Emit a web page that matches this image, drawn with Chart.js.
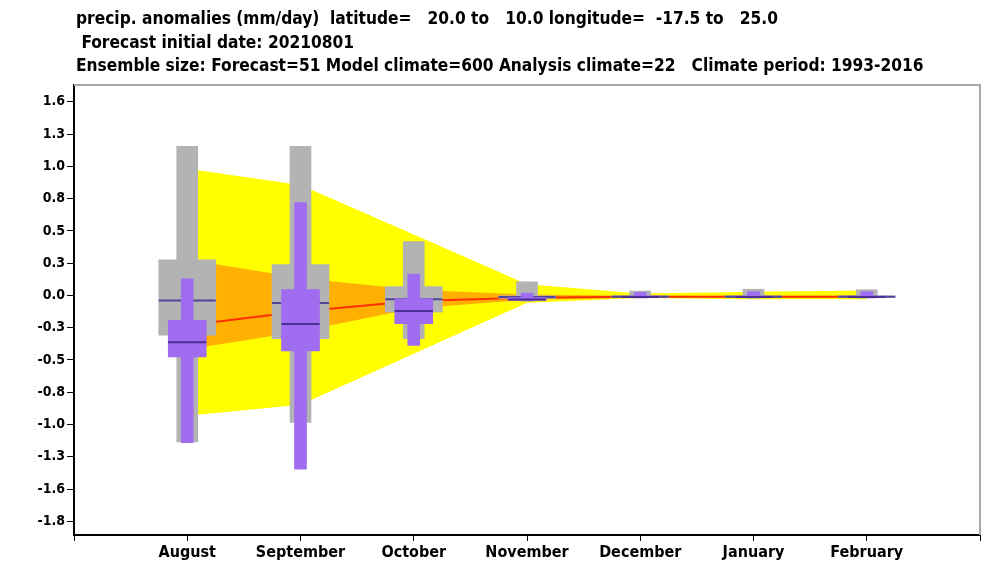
<!DOCTYPE html>
<html>
<head>
<meta charset="utf-8">
<script src="https://cdn.jsdelivr.net/npm/chart.js@4.4.1/dist/chart.umd.min.js"></script>
<style>
  html, body { margin: 0; padding: 0; background: #fff; }
  #wrap { width: 996px; height: 575px; }
</style>
</head>
<body>
<div id="wrap"><canvas id="climagram" width="996" height="575"></canvas></div>
<script>
// Title text
const titleLines = [
  "precip. anomalies (mm/day)  latitude=   20.0 to   10.0 longitude=  -17.5 to   25.0",
  " Forecast initial date: 20210801",
  "Ensemble size: Forecast=51 Model climate=600 Analysis climate=22   Climate period: 1993-2016"
];

// Months and their positions on the x axis
const months = ["August", "September", "October", "November", "December", "January", "February"];
const monthPos = [1, 2, 3, 4, 5, 6, 7];
const xTickValues = [0, 1, 2, 3, 4, 5, 6, 7, 8];

// y axis ticks
const yTickValues = [-1.82, -1.56, -1.3, -1.04, -0.78, -0.52, -0.26, 0, 0.26, 0.52, 0.78, 1.04, 1.3, 1.56];
const yTickLabels = ["-1.8", "-1.6", "-1.3", "-1.0", "-0.8", "-0.5", "-0.3", "0.0", "0.3", "0.5", "0.8", "1.0", "1.3", "1.6"];

// Model climate bands (yellow = outer, orange = inner) and median (red)
const outerHigh = [1.02, 0.89, 0.49, 0.09, 0.016, 0.03, 0.04];
const outerLow = [-0.97, -0.88, -0.47, -0.06, -0.02, -0.03, -0.03];
const innerHigh = [0.29, 0.14, 0.045, 0.008, -0.003, -0.003, -0.003];
const innerLow = [-0.435, -0.29, -0.105, -0.035, -0.018, -0.02, -0.02];
const climMedian = [-0.24, -0.13, -0.045, -0.018, -0.01, -0.01, -0.01];

// Analysis climate (grey boxes)
const anaMax = [1.2, 1.2, 0.434, 0.11, 0.035, 0.05, 0.046];
const anaQ3 = [0.287, 0.249, 0.072, -0.003, -0.003, -0.003, -0.003];
const anaMedian = [-0.04, -0.062, -0.03, -0.013, -0.01, -0.01, -0.01];
const anaQ1 = [-0.32, -0.348, -0.134, -0.024, -0.015, -0.015, -0.015];
const anaMin = [-1.18, -1.023, -0.348, -0.04, -0.02, -0.02, -0.02];

// Forecast (purple boxes)
const fcMax = [0.134, 0.748, 0.171, 0.018, 0.024, 0.03, 0.03];
const fcQ3 = [-0.2, 0.046, -0.027, -0.018, -0.005, -0.005, -0.005];
const fcMedian = [-0.378, -0.23, -0.126, -0.032, -0.012, -0.012, -0.012];
const fcQ1 = [-0.495, -0.448, -0.228, -0.04, -0.018, -0.018, -0.018];
const fcMin = [-1.187, -1.4, -0.402, -0.045, -0.02, -0.02, -0.02];

const points = (vals) => vals.map((v, i) => ({ x: monthPos[i], y: v }));
const ranges = (lo, hi) => lo.map((v, i) => ({ x: monthPos[i], y: [v, hi[i]] }));

const YELLOW = "#ffff00";
const ORANGE = "#ffb000";
const GREY = "#b3b3b3";
const PURPLE = "#a06cf0";
const FONT = '"DejaVu Sans Condensed", "DejaVu Sans"';

// Band helper: upper line fills down to the next dataset
function band(high, low, color, order) {
  return [
    { type: "line", data: points(high), fill: "+1", backgroundColor: color, borderWidth: 0, pointRadius: 0, order: order },
    { type: "line", data: points(low), fill: false, borderWidth: 0, pointRadius: 0, order: order }
  ];
}

function boxBar(lo, hi, color, width, order) {
  return {
    type: "bar", data: ranges(lo, hi), backgroundColor: color, borderWidth: 0,
    barThickness: width, grouped: false, order: order
  };
}

function medianLine(vals, color, halfWidth, order) {
  return {
    type: "line", data: points(vals), showLine: false, pointStyle: "line",
    pointRadius: halfWidth, pointBorderColor: color, pointBorderWidth: 2, order: order
  };
}

const datasets = [
  ...band(outerHigh, outerLow, YELLOW, 20),
  ...band(innerHigh, innerLow, ORANGE, 19),
  { type: "line", data: points(climMedian), borderColor: "#ff3000", borderWidth: 2, pointRadius: 0, fill: false, order: 18 },
  boxBar(anaMin, anaMax, GREY, 21, 17),
  boxBar(anaQ1, anaQ3, GREY, 57, 16),
  medianLine(anaMedian, "#4e4698", 28.5, 15),
  boxBar(fcMin, fcMax, PURPLE, 12, 14),
  boxBar(fcQ1, fcQ3, PURPLE, 38, 13),
  medianLine(fcMedian, "#4a2f96", 19, 12)
];

// Title text and grey frame on top/right
const decorations = {
  id: "decorations",
  beforeDatasetsDraw(chart) {
    const { ctx, chartArea: a } = chart;
    ctx.save();
    ctx.strokeStyle = "#a8a8a8";
    ctx.lineWidth = 2;
    ctx.beginPath();
    ctx.moveTo(a.left, a.top);
    ctx.lineTo(a.right, a.top);
    ctx.lineTo(a.right, a.bottom);
    ctx.stroke();
    ctx.restore();
  },
  afterDraw(chart) {
    const ctx = chart.ctx;
    ctx.save();
    ctx.font = "bold 17.2px " + FONT + ", sans-serif";
    ctx.fillStyle = "#000";
    ctx.textBaseline = "middle";
    titleLines.forEach((t, i) => ctx.fillText(t, 76, 20 + i * 23.5));
    ctx.restore();
  }
};

const ctx = document.getElementById("climagram").getContext("2d");
new Chart(ctx, {
  type: "bar",
  data: { datasets },
  plugins: [decorations],
  options: {
    responsive: false,
    animation: false,
    layout: { autoPadding: false, padding: { top: 85, right: 16, bottom: 0, left: 0 } },
    plugins: { legend: { display: false }, tooltip: { enabled: false }, title: { display: false } },
    scales: {
      x: {
        type: "linear",
        min: 0,
        max: 8,
        offset: false,
        afterFit: (s) => { s.height = 40; },
        afterBuildTicks: (s) => { s.ticks = xTickValues.map(v => ({ value: v })); },
        ticks: {
          autoSkip: false,
          maxRotation: 0,
          padding: 2,
          color: "#000",
          font: { family: FONT, size: 16, weight: "bold" },
          callback: (v) => (v >= 1 && v <= 7 ? months[v - 1] : "")
        },
        grid: { offset: false, drawOnChartArea: false, tickLength: 6, color: "#000", lineWidth: 1 },
        border: { color: "#000", width: 2 }
      },
      y: {
        type: "linear",
        min: -1.93,
        max: 1.695,
        afterFit: (s) => { s.width = 74; },
        afterBuildTicks: (s) => { s.ticks = yTickValues.map(v => ({ value: v })); },
        ticks: {
          autoSkip: false,
          padding: 2,
          color: "#000",
          font: { family: FONT, size: 14, weight: "bold" },
          callback: (v) => yTickLabels[yTickValues.indexOf(v)]
        },
        grid: { drawOnChartArea: false, tickLength: 7, color: "#000", lineWidth: 1 },
        border: { color: "#000", width: 2 }
      }
    }
  }
});
</script>
</body>
</html>
